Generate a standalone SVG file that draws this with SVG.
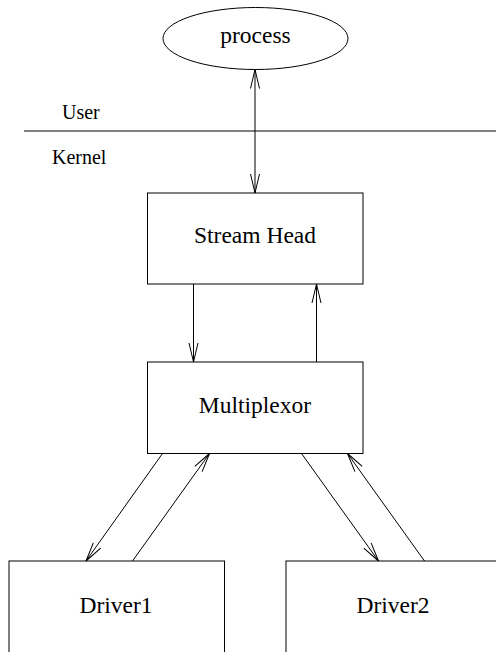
<svg xmlns="http://www.w3.org/2000/svg" width="496" height="652" viewBox="0 0 496 652">
  <style>
    .box { fill: #ffffff; stroke: #000000; stroke-width: 1; }
    .lbl { font-family: 'Liberation Serif', 'Times New Roman', serif; font-size: 23.5px; fill: #000000; text-anchor: middle; }
    .side { font-family: 'Liberation Serif', 'Times New Roman', serif; font-size: 20px; fill: #000000; }
    .edge { stroke: #000000; stroke-width: 1; fill: none; }
    .divider { stroke: #555555; stroke-width: 1.3; }
  </style>
  <defs>
    <!-- open "V" arrowhead shared by all connectors -->
    <marker id="open" markerUnits="userSpaceOnUse" markerWidth="24" markerHeight="14" refX="19" refY="5" orient="auto-start-reverse" viewBox="-1 0 24 10">
      <path d="M0,0.5 L19,5 L0,9.5" fill="none" stroke="#000000" stroke-width="1"/>
    </marker>
  </defs>

  <!-- user / kernel boundary -->
  <g id="boundary">
    <line class="divider" x1="24" y1="131" x2="496" y2="131"/>
    <text class="side" x="62" y="119">User</text>
    <text class="side" x="52" y="164">Kernel</text>
  </g>

  <g id="process">
    <ellipse class="box" cx="255.5" cy="38.5" rx="92.5" ry="31"/>
    <text class="lbl" x="255.5" y="43">process</text>
  </g>

  <g id="stream-head">
    <rect class="box" x="147.5" y="193" width="215.5" height="91"/>
    <text class="lbl" x="255" y="243">Stream Head</text>
  </g>

  <g id="multiplexor">
    <rect class="box" x="147.5" y="362" width="215.5" height="91.5"/>
    <text class="lbl" x="255" y="413">Multiplexor</text>
  </g>

  <g id="driver1">
    <rect class="box" x="9" y="561" width="215.5" height="100"/>
    <text class="lbl" x="116" y="613">Driver1</text>
  </g>

  <g id="driver2">
    <rect class="box" x="286" y="561" width="220" height="100"/>
    <text class="lbl" x="393" y="613">Driver2</text>
  </g>

  <g id="connectors">
    <line class="edge" x1="255" y1="69.5" x2="255" y2="193" marker-start="url(#open)" marker-end="url(#open)"/>
    <line class="edge" x1="193.5" y1="284" x2="193.5" y2="362" marker-end="url(#open)"/>
    <line class="edge" x1="316.5" y1="362" x2="316.5" y2="284" marker-end="url(#open)"/>
    <line class="edge" x1="162.5" y1="453.5" x2="86" y2="561" marker-end="url(#open)"/>
    <line class="edge" x1="132.5" y1="561" x2="209.5" y2="453.5" marker-end="url(#open)"/>
    <line class="edge" x1="301.5" y1="453.5" x2="378.5" y2="561" marker-end="url(#open)"/>
    <line class="edge" x1="424.5" y1="561" x2="347.5" y2="453.5" marker-end="url(#open)"/>
  </g>
</svg>
